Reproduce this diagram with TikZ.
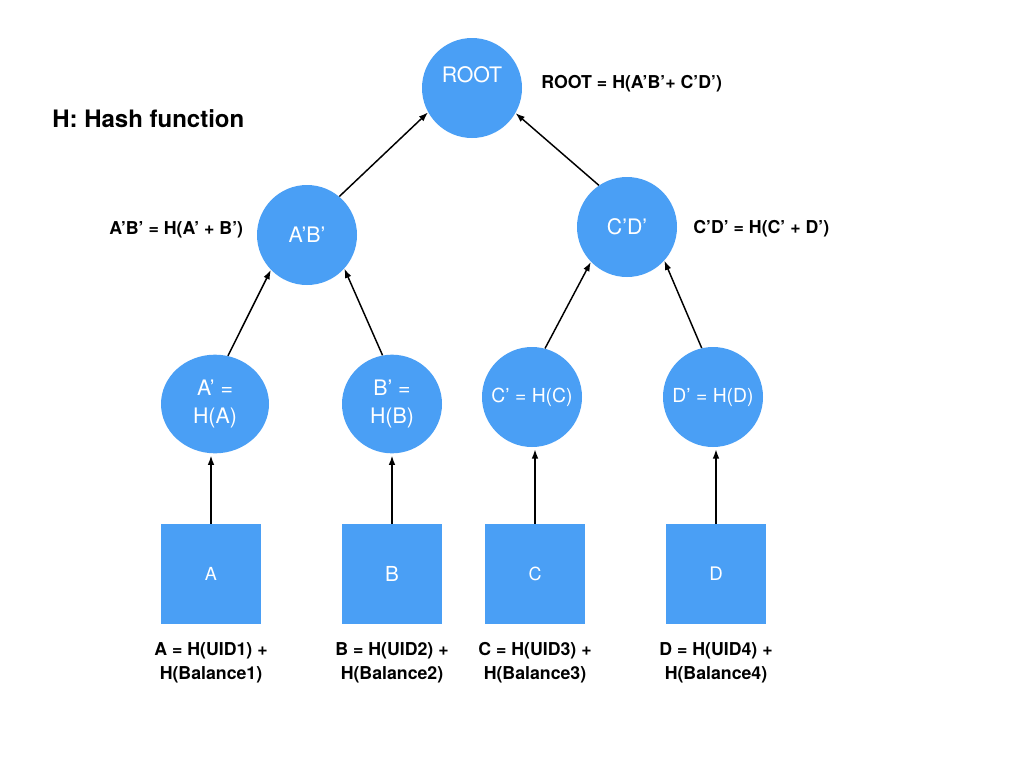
\documentclass[tikz,border=0pt]{standalone}
\usepackage{fontspec}
\setmainfont{TeX Gyre Heros}
\usetikzlibrary{arrows.meta,shapes.geometric}
\definecolor{nodeblue}{RGB}{74,159,245}
\begin{document}
\begin{tikzpicture}[x=0.75pt,y=-0.75pt,
  hashc/.style={circle,fill=nodeblue,draw=none,minimum size=75pt,inner sep=0pt,
    text=white,font=\fontsize{16}{20}\selectfont,align=center},
  hashe/.style={ellipse,fill=nodeblue,draw=none,inner sep=0pt,
    text=white,font=\fontsize{16}{20.5}\selectfont,align=center},
  leaf/.style={rectangle,fill=nodeblue,draw=none,minimum size=75pt,inner sep=0pt,text=white},
  intext/.style={inner sep=0pt,text=white,font=\fontsize{16}{20}\selectfont},
  eqlabel/.style={inner sep=0pt,font=\bfseries\fontsize{13.3}{18}\selectfont,align=center},
  arr/.style={-{Latex[length=7pt,width=5pt]},line width=1.1pt}]
\useasboundingbox (0,0) rectangle (1024,768);
\fill[white] (0,0) rectangle (1024,768);

% inner nodes
\node[hashc] (root) at (472,88) {};
\node[intext] (roottext) at (472,75) {ROOT};
\node[hashc] (ab) at (307,235) {A’B’};
\node[hashc] (cd) at (627,227) {C’D’};
\node[hashe,minimum width=81pt,minimum height=74pt] (ap) at (215,404) {A’ =\\H(A)};
\node[hashe,minimum width=75pt,minimum height=74pt] (bp) at (392,404) {B’ =\\H(B)};
\node[hashc,font=\fontsize{14.5}{20}\selectfont] (cp) at (532,397) {C’ = H(C)};
\node[hashc,font=\fontsize{14.5}{20}\selectfont] (dp) at (713,397) {D’ = H(D)};

% leaves
\node[leaf,font=\fontsize{13.5}{15}\selectfont] (sqa) at (211,574) {A};
\node[leaf,font=\fontsize{15.5}{17}\selectfont] (sqb) at (392,574) {B};
\node[leaf,font=\fontsize{13.5}{15}\selectfont] (sqc) at (535,574) {C};
\node[leaf,font=\fontsize{14}{15}\selectfont] (sqd) at (716,574) {D};

% labels
\node[inner sep=0pt,anchor=west,font=\bfseries\fontsize{18}{22}\selectfont] (hlabel) at (52,119) {H: Hash function};
\node[eqlabel,anchor=west] (rootlabel) at (541,84) {ROOT = H(A’B’+ C’D’)};
\node[eqlabel,anchor=west] (ablabel) at (109,230) {A’B’ = H(A’ + B’)};
\node[eqlabel,anchor=west] (cdlabel) at (693,229) {C’D’ = H(C’ + D’)};
\node[eqlabel] (alabel) at (211,663) {A = H(UID1) +\\H(Balance1)};
\node[eqlabel] (blabel) at (392,663) {B = H(UID2) +\\H(Balance2)};
\node[eqlabel] (clabel) at (535,663) {C = H(UID3) +\\H(Balance3)};
\node[eqlabel] (dlabel) at (716,663) {D = H(UID4) +\\H(Balance4)};

% connectors
\draw[arr] (ap.75) -- (ab.224);
\draw[arr] (bp.101) -- (ab.318);
\draw[arr] (ab.50) -- (root.209);
\draw[arr] (cd.124) -- (root.330);
\draw[arr] (cp.75) -- (cd.224);
\draw[arr] (dp.103) -- (cd.318);
\draw[arr,shorten >=1.5pt] (sqa.north) -- (sqa.north |- ap.south);
\draw[arr,shorten >=1.5pt] (sqb.north) -- (sqb.north |- bp.south);
\draw[arr,shorten >=1.5pt] (sqc.north) -- (sqc.north |- cp.south);
\draw[arr,shorten >=1.5pt] (sqd.north) -- (sqd.north |- dp.south);
\end{tikzpicture}
\end{document}
